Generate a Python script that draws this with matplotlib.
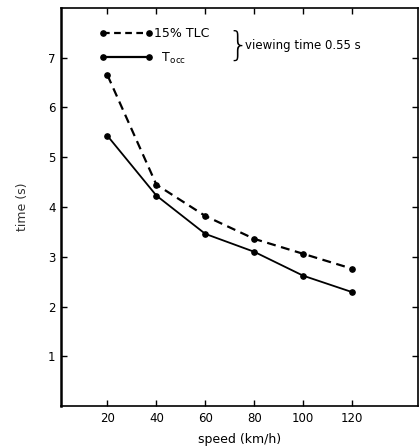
import matplotlib
matplotlib.use("Agg")
import matplotlib.pyplot as plt
from matplotlib.lines import Line2D

speed = [20, 40, 60, 80, 100, 120]
tlc15 = [6.65, 4.45, 3.82, 3.36, 3.06, 2.76]
tocc = [5.43, 4.23, 3.46, 3.10, 2.62, 2.29]

xticks = [20, 40, 60, 80, 100, 120]
yticks = [1, 2, 3, 4, 5, 6, 7]

plt.rcParams['font.family'] = ['DejaVu Sans']
plt.rcParams['font.size'] = 8.5

fig = plt.figure(figsize=(4.2, 4.48), dpi=100)
ax = fig.add_axes([61 / 420, 1 - 406 / 448, (418 - 61) / 420, (406 - 8) / 448])

ax.plot(speed, tlc15, color='black', lw=1.6, ls=(0, (4, 2.5)),
        marker='o', ms=3.8)
ax.plot(speed, tocc, color='black', lw=1.3, ls='-',
        marker='o', ms=3.8)

ax.set_xlim(1, 147)
ax.set_ylim(0, 8)
ax.set_xticks(xticks)
ax.set_yticks(yticks)
ax.tick_params(direction='in', length=4, width=1, top=True, right=True,
               labelsize=8.5, pad=4)
for s in ax.spines.values():
    s.set_linewidth(1.2)
ax.spines['left'].set_linewidth(1.8)

ax.set_xlabel('speed (km/h)', fontsize=9, labelpad=6)
ax.set_ylabel('time (s)', fontsize=9, labelpad=14, color='#333333')

handles = [
    Line2D([], [], color='black', lw=1.6, ls=(0, (3, 2)), marker='o', ms=3.8),
    Line2D([], [], color='black', lw=1.6, ls='-', marker='o', ms=3.8),
]
leg = ax.legend(handles, ['15% TLC', r'  T$_{\mathregular{occ}}$'], numpoints=2,
                loc='upper left', bbox_to_anchor=(0.076, 0.98), frameon=False,
                handlelength=4.3, handletextpad=0.1, labelspacing=0.85,
                fontsize=9)

ax.text(0.496, 0.905, '}', transform=ax.transAxes, fontsize=24,
        ha='center', va='center', fontweight='light')
ax.text(0.515, 0.905, 'viewing time 0.55 s', transform=ax.transAxes,
        fontsize=8.5, ha='left', va='center')

fig.savefig('out.png', dpi=100)
